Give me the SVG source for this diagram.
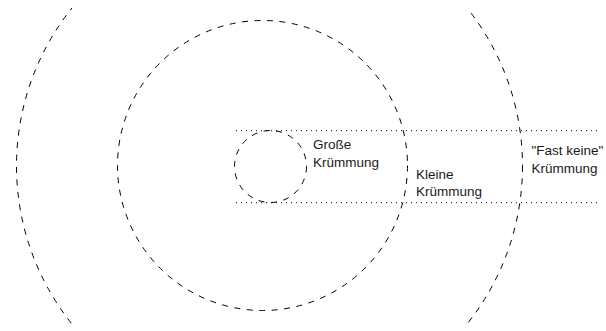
<svg xmlns="http://www.w3.org/2000/svg" width="606" height="331" viewBox="0 0 606 331">
  <style>
    .ring { fill: none; stroke: #000; stroke-width: 1; stroke-dasharray: 6 6.5; }
    .guide { fill: none; stroke: #000; stroke-width: 1; stroke-dasharray: 1 4; }
    .label { font-family: "Liberation Sans", Arial, Helvetica, sans-serif; font-size: 13.5px; fill: #1a1a1a; }
  </style>
  <defs>
    <clipPath id="band">
      <rect x="0" y="8" width="606" height="319"/>
    </clipPath>
  </defs>
  <rect width="606" height="331" fill="#fff"/>

  <!-- horizontal dotted guide lines -->
  <g id="connectors">
    <line class="guide" x1="236" y1="130.7" x2="598" y2="130.7"/>
    <line class="guide" x1="236" y1="202.7" x2="598" y2="202.7"/>
  </g>

  <!-- concentric circles of decreasing curvature -->
  <g id="circle-small">
    <circle class="ring" cx="270.5" cy="166.5" r="36"/>
  </g>
  <g id="circle-medium">
    <circle class="ring" cx="262.5" cy="165.5" r="145"/>
  </g>
  <g id="circle-large">
    <circle class="ring" cx="269.5" cy="166" r="253" clip-path="url(#band)"/>
  </g>

  <!-- labels -->
  <g id="label-gross">
    <text class="label" x="313" y="149">Große</text>
    <text class="label" x="313" y="166.7">Krümmung</text>
  </g>
  <g id="label-klein">
    <text class="label" x="416" y="178.7">Kleine</text>
    <text class="label" x="416" y="196.3">Krümmung</text>
  </g>
  <g id="label-fast-keine">
    <text class="label" x="531.5" y="155">"Fast keine"</text>
    <text class="label" x="531.5" y="172.5">Krümmung</text>
  </g>
</svg>
